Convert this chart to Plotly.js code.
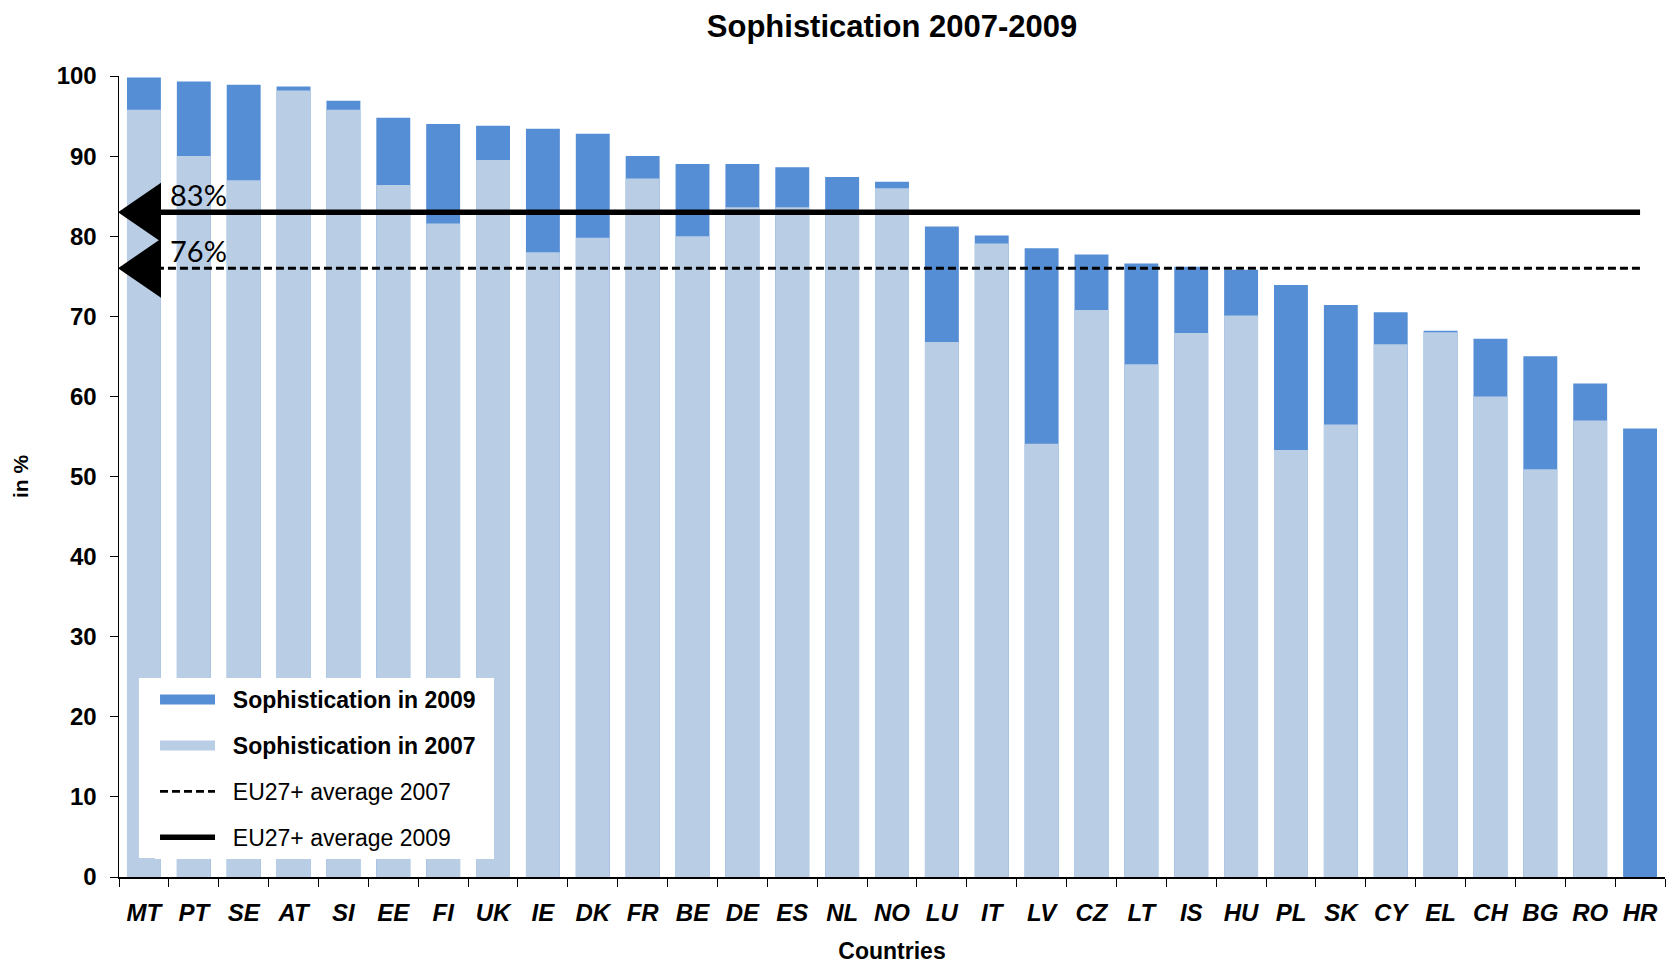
<!DOCTYPE html>
<html>
<head>
<meta charset="utf-8">
<script src="https://cdn.plot.ly/plotly-3.0.1.min.js"></script>
<style>html,body{margin:0;padding:0;background:#fff;}#chart{width:1671px;height:964px;}</style>
</head>
<body>
<div id="chart"></div>
<script>
const countries = ["MT","PT","SE","AT","SI","EE","FI","UK","IE","DK","FR","BE","DE","ES","NL","NO","LU","IT","LV","CZ","LT","IS","HU","PL","SK","CY","EL","CH","BG","RO","HR"];
const soph2009 = [99.8,99.3,98.9,98.7,96.9,94.8,94.0,93.8,93.4,92.8,90.0,89.0,89.0,88.6,87.4,86.8,81.2,80.1,78.5,77.7,76.6,76.2,75.8,73.9,71.4,70.5,68.2,67.2,65.0,61.6,56.0];
const soph2007 = [95.8,90.0,87.0,98.2,95.8,86.4,81.6,89.5,78.0,79.8,87.2,80.0,83.6,83.6,83.3,86.0,66.8,79.1,54.1,70.8,64.0,67.9,70.1,53.3,56.5,66.5,68.0,60.0,50.9,57.0,0];
const avg2007 = 76;
const avg2009 = 83;
const avgLabels = ["76%","83%"];
const legendNames = ["Sophistication in 2009","Sophistication in 2007","EU27+ average 2007","EU27+ average 2009"];

const FONT = "Liberation Sans, Arial, sans-serif";
const DARK = "#558ED5";
const LIGHT = "#B9CDE5";
const PAD = "\u00A0\u00A0";

const lastC = countries[countries.length-1];
const traces = [
  {type:"bar", name:legendNames[0], x:countries, y:soph2009, marker:{color:DARK}, showlegend:false},
  {type:"bar", name:legendNames[1], x:countries, y:soph2007, marker:{color:LIGHT}, showlegend:false},
  // legend-only swatches for the bar series (no data drawn)
  {type:"scatter", mode:"lines", name:PAD+"<b>"+legendNames[0]+"</b>"+PAD, x:[countries[0]], y:[null], line:{color:DARK, width:13}, legendgroup:"a", legendrank:1},
  {type:"scatter", mode:"lines", name:PAD+"<b>"+legendNames[1]+"</b>"+PAD, x:[countries[0]], y:[null], line:{color:LIGHT, width:13}, legendgroup:"b", legendrank:2},
  {type:"scatter", mode:"lines", name:PAD+legendNames[2], x:[countries[0], lastC], y:[avg2007, avg2007], line:{color:"#000", width:2.8, dash:"8px,4px"}, legendgroup:"c", legendrank:3},
  {type:"scatter", mode:"lines", name:PAD+legendNames[3], x:[countries[0], lastC], y:[avg2009, avg2009], line:{color:"#000", width:5.5}, legendgroup:"d", legendrank:4}
];

function arrow(v){
  return {type:"path", xref:"paper", xsizemode:"pixel", xanchor:0, yref:"y", ysizemode:"pixel", yanchor:v,
          path:"M -1 0 L 42 29.5 L 42 -29.5 Z", fillcolor:"#000", line:{width:0}};
}

const layout = {
  width:1671, height:964,
  margin:{l:119, r:6, t:76, b:87},
  paper_bgcolor:"#fff", plot_bgcolor:"#fff",
  font:{family:FONT, color:"#000"},
  barmode:"overlay", bargap:0.32,
  title:{text:"<b>Sophistication 2007-2009</b>", font:{family:FONT, size:31, color:"#000"}, xref:"paper", x:0.5, xanchor:"center", yref:"container", y:0.973, yanchor:"middle"},
  xaxis:{type:"category", tickson:"boundaries", ticks:"outside", ticklen:8, tickcolor:"#000", showline:true, linecolor:"#000", linewidth:1.5, showgrid:false,
         tickfont:{family:FONT, size:24, color:"#000", weight:"bold", style:"italic"}, ticklabelstandoff:14,
         title:{text:"<b>Countries</b>", font:{family:FONT, size:23, color:"#000"}, standoff:22}},
  yaxis:{range:[0,100], tickvals:[0,10,20,30,40,50,60,70,80,90,100], ticks:"outside", ticklen:8, tickcolor:"#000", showline:true, linecolor:"#000", linewidth:1.5, showgrid:false, zeroline:false,
         tickfont:{family:FONT, size:24, color:"#000", weight:"bold"}, ticklabelstandoff:8,
         title:{text:"<b>in %</b>", font:{family:FONT, size:21, color:"#000"}, standoff:22}},
  legend:{x:0.0233, y:0.2484, xanchor:"left", yanchor:"top", bgcolor:"#fff", borderwidth:0, tracegroupgap:13, itemwidth:55,
          font:{family:FONT, size:23, color:"#000"}},
  shapes:[
    {type:"rect", xref:"paper", yref:"paper", x0:0.0129, x1:0.03, y0:0.0237, y1:0.2484, fillcolor:"#fff", line:{width:0}, layer:"above"},
    arrow(avg2009), arrow(avg2007)
  ],
  annotations:[
    {xref:"paper", x:0, yref:"y", y:avg2009, text:avgLabels[1], showarrow:false, xanchor:"left", yanchor:"middle", xshift:49, yshift:18, font:{family:"Lato, sans-serif", size:29, color:"#000"}},
    {xref:"paper", x:0, yref:"y", y:avg2007, text:avgLabels[0], showarrow:false, xanchor:"left", yanchor:"middle", xshift:49, yshift:18, font:{family:"Lato, sans-serif", size:29, color:"#000"}}
  ]
};

Plotly.newPlot("chart", traces, layout, {displayModeBar:false, staticPlot:true});
</script>
</body>
</html>
